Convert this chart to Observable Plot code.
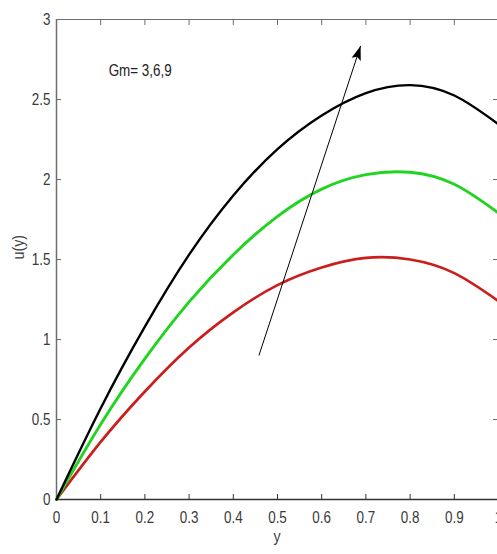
<!DOCTYPE html>
<html><head><meta charset="utf-8">
<script src="https://cdn.jsdelivr.net/npm/d3@7"></script>
<script src="https://cdn.jsdelivr.net/npm/@observablehq/plot@0.6"></script>
<style>body{margin:0;background:#fff}</style>
</head><body><div id="chart"></div>
<script>
// ---- data ----
const yPos  = [0, 0.1, 0.2, 0.3, 0.4, 0.5, 0.6, 0.7, 0.8, 0.9, 1.0];
const uGm3  = [0, 0.36, 0.675, 0.95, 1.17, 1.34, 1.45, 1.51, 1.50, 1.415, 1.24];
const uGm6  = [0, 0.47, 0.88, 1.235, 1.53, 1.77, 1.94, 2.03, 2.045, 1.97, 1.79];
const uGm9  = [0, 0.57, 1.08, 1.53, 1.90, 2.19, 2.40, 2.54, 2.59, 2.525, 2.345];
const seriesNames  = ["Gm=3", "Gm=6", "Gm=9"];
const seriesColors = ["#cc1d1d", "#20d420", "#000000"];
const seriesWidths = [2.7, 2.9, 2.4];
const xTicks = [0, 0.1, 0.2, 0.3, 0.4, 0.5, 0.6, 0.7, 0.8, 0.9, 1];
const yTicks = [0, 0.5, 1, 1.5, 2, 2.5, 3];
const xLabel = "y";
const yLabel = "u(y)";
const annotationText = "Gm= 3,6,9";
const annotationAt = [0.118, 2.68];
const arrowFrom = [0.458, 0.90];
const arrowTo   = [0.688, 2.835];

const xRange = [56, 498], yRange = [499, 19];
const axisColor = "#6e6e6e";
const textColor = "#3a3a3a";
const font = "'Liberation Sans',Arial,sans-serif";

// filled arrow head symbol (tip at origin, pointing up)
const headSymbol = {
  draw(context, size) {
    const s = Math.sqrt(size);
    context.moveTo(0, 0);
    context.lineTo(s * 0.34, s * 1.0);
    context.lineTo(0, s * 0.8);
    context.lineTo(-s * 0.34, s * 1.0);
    context.closePath();
  }
};

function build() {
  const sx = d3.scaleLinear([0, 1], xRange), sy = d3.scaleLinear([0, 3], yRange);
  const ang = Math.atan2(sx(arrowTo[0]) - sx(arrowFrom[0]), -(sy(arrowTo[1]) - sy(arrowFrom[1]))) * 180 / Math.PI;
  const lineMarks = [uGm3, uGm6, uGm9].map((vals, i) =>
    Plot.line(vals.map((u, j) => ({x: yPos[j], u})),
      {x: "x", y: "u", stroke: seriesColors[i], strokeWidth: seriesWidths[i], curve: "natural"}));
  return Plot.plot({
    width: 497,
    height: 554,
    marginLeft: 56, marginTop: 19, marginBottom: 55, marginRight: 0,
    style: {fontFamily: font, fontSize: "16px", color: textColor, background: "#fff"},
    x: {domain: [0, 1], range: xRange},
    y: {domain: [0, 3], range: yRange},
    marks: [
      Plot.ruleY([3], {stroke: axisColor, strokeWidth: 1.2}),
      Plot.ruleX([1], {stroke: axisColor, strokeWidth: 1.2}),
      Plot.axisX({ticks: xTicks, anchor: "bottom", tickSize: -5, text: null, label: null, stroke: "#333"}),
      Plot.axisX({ticks: xTicks, anchor: "top", tickSize: -5, text: null, label: null, stroke: axisColor}),
      Plot.axisY({ticks: yTicks, anchor: "left", tickSize: -5, text: null, label: null, stroke: axisColor}),
      Plot.axisY({ticks: yTicks, anchor: "right", tickSize: -5, text: null, label: null, stroke: axisColor}),
      Plot.axisX({ticks: xTicks, anchor: "bottom", tickSize: 0, tickPadding: 12, label: null,
        tickFormat: d => String(d), fill: textColor}),
      Plot.axisY({ticks: yTicks, anchor: "left", tickSize: 0, tickPadding: 6, label: null,
        tickFormat: d => String(d), fill: textColor}),
      Plot.ruleX([0], {stroke: axisColor, strokeWidth: 1.5}),
      Plot.ruleY([0], {stroke: "#333", strokeWidth: 1.5}),
      ...lineMarks,
      Plot.link([{x1: arrowFrom[0], y1: arrowFrom[1], x2: arrowTo[0], y2: arrowTo[1]}],
        {x1: "x1", y1: "y1", x2: "x2", y2: "y2", stroke: "#000", strokeWidth: 1}),
      Plot.dot([arrowTo], {x: d => d[0], y: d => d[1], symbol: headSymbol, r: 8,
        fill: "#000", stroke: "none", rotate: ang}),
      Plot.text([annotationText], {x: annotationAt[0], y: annotationAt[1], text: d => d,
        textAnchor: "start", fill: "#222", fontSize: 16}),
      Plot.text([xLabel], {frameAnchor: "bottom", dy: 42, text: d => d, fill: textColor, fontSize: 17}),
      Plot.text([yLabel], {frameAnchor: "left", dx: -38, rotate: -90, text: d => d, fill: textColor, fontSize: 17})
    ]
  });
}
const chart = build();
// MATLAB-like condensed lettering: compress each text horizontally about its anchor
chart.querySelectorAll("text").forEach(t => {
  const tr = t.getAttribute("transform") || "";
  t.setAttribute("transform", (tr + " scale(0.84,1)").trim());
});
document.getElementById("chart").appendChild(chart);
</script>
</body></html>
